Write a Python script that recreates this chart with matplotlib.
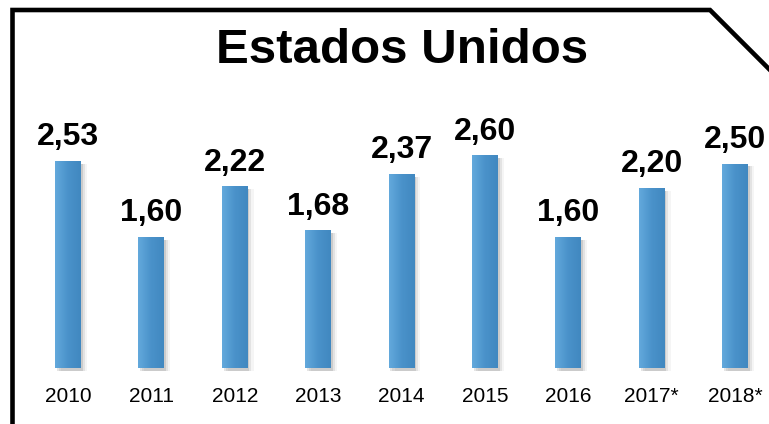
import matplotlib.pyplot as plt
import numpy as np
from matplotlib.lines import Line2D
from matplotlib.colors import LinearSegmentedColormap

anos = ['2010', '2011', '2012', '2013', '2014', '2015', '2016', '2017*', '2018*']
valores = [2.53, 1.60, 2.22, 1.68, 2.37, 2.60, 1.60, 2.20, 2.50]
rotulos = ['2,53', '1,60', '2,22', '1,68', '2,37', '2,60', '1,60', '2,20', '2,50']

W, H = 769, 424
fig = plt.figure(figsize=(W / 100, H / 100), dpi=100)
fig.patch.set_facecolor('white')

# eixo ocupando toda a figura, escalas escolhidas para bater com a imagem
passo = 83.4
escala_y = 81.6
ax = fig.add_axes([0, 0, 1, 1])
ax.axis('off')

largura = 0.31
gradiente = np.linspace(0, 1, 64).reshape(1, -1)
cmap_barra = LinearSegmentedColormap.from_list('barra', ['#63a9dc', '#4a92ca', '#4188c0'])

for i, v in enumerate(valores):
    # sombra
    for k, a in enumerate([0.10, 0.07, 0.04]):
        dx = 0.02 + k * 0.025
        ax.bar(i + dx, v + 0.01, width=largura, bottom=-0.04, color='black',
               alpha=a, linewidth=0, zorder=1)
    ax.imshow(gradiente, cmap=cmap_barra, aspect='auto', zorder=2,
              extent=(i - largura / 2, i + largura / 2, 0, v))
    ax.text(i, v + 0.2, rotulos[i], ha='center', va='baseline', fontsize=23,
            fontweight='bold', family='Liberation Sans', color='black')
    ax.text(i, -0.345, anos[i], ha='center', va='center', fontsize=15,
            family='Liberation Sans', color='black')

ax.set_xlim(-68 / passo, (W - 68) / passo)
ax.set_ylim(-56 / escala_y, (H - 56) / escala_y)

fig.text(402 / W, 1 - 63 / H, 'Estados Unidos', ha='center', va='baseline',
         fontsize=35.5, fontweight='bold', family='Liberation Sans')

# moldura com canto cortado
bx = [12.5, 12.5, 710, 769]
by = [424, 10, 10, 69]
fig.add_artist(Line2D([x / W for x in bx], [1 - y / H for y in by],
                      color='black', linewidth=3.3, solid_joinstyle='miter'))

fig.savefig('out.png', dpi=100)
